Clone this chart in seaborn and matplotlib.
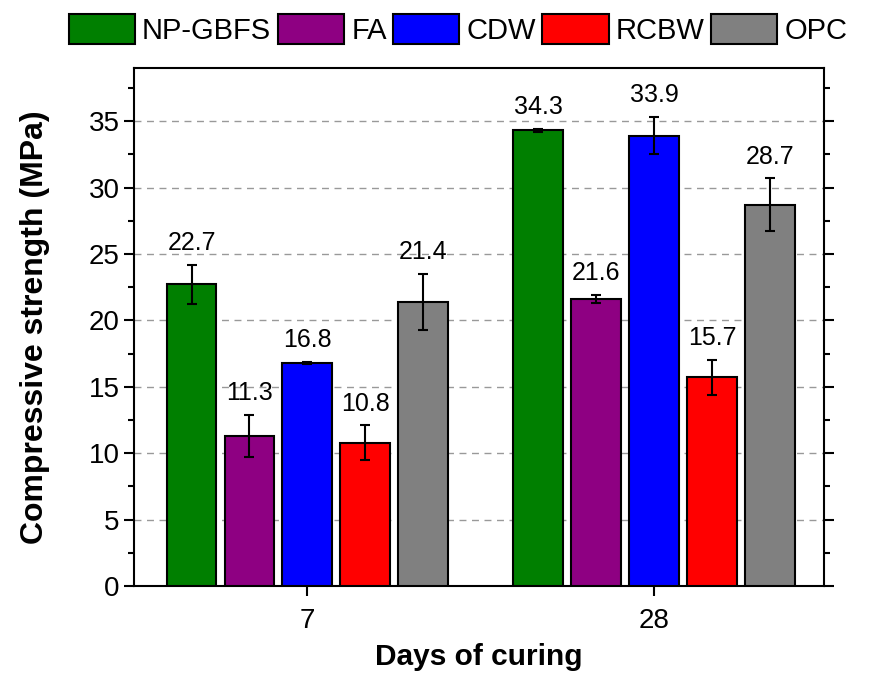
import pandas as pd
import matplotlib.pyplot as plt
import seaborn as sns

days = ["7", "28"]
materials = ["NP-GBFS", "FA", "CDW", "RCBW", "OPC"]
strength_7 = [22.7, 11.3, 16.8, 10.8, 21.4]
strength_28 = [34.3, 21.6, 33.9, 15.7, 28.7]
err_7 = [1.5, 1.6, 0.1, 1.3, 2.1]
err_28 = [0.1, 0.3, 1.4, 1.3, 2.0]
colors = ["#007F00", "#8E0082", "#0000FF", "#FF0000", "#808080"]

df = pd.DataFrame({
    "days": [days[0]] * 5 + [days[1]] * 5,
    "material": materials * 2,
    "strength": strength_7 + strength_28,
    "err": err_7 + err_28,
})

sns.set_style("ticks", {"axes.edgecolor": "black", "text.color": "black",
                        "axes.labelcolor": "black", "xtick.color": "black",
                        "ytick.color": "black"})
plt.rcParams['font.family'] = ['Liberation Sans', 'DejaVu Sans']

fig = plt.figure(figsize=(8.88, 6.75), dpi=100)
ax = fig.add_axes([134 / 888, 1 - 586 / 675, 690 / 888, 518 / 675])

sns.barplot(data=df, x="days", y="strength", hue="material", order=days,
            hue_order=materials, palette=colors, errorbar=None,
            width=0.835, gap=0.14, edgecolor="black", linewidth=1.5,
            saturation=1, ax=ax, zorder=3)

# error bars + value labels on each bar
bar_conts = list(ax.containers)
for i, cont in enumerate(bar_conts):
    bars = sorted(cont.patches, key=lambda b: b.get_x())
    for j, bar in enumerate(bars):
        row = df[(df.material == materials[i]) & (df.days == days[j])].iloc[0]
        xc = bar.get_x() + bar.get_width() / 2
        ax.errorbar(xc, row.strength, yerr=row.err, color="black",
                    capsize=3.3, elinewidth=1.5, capthick=1.5, zorder=4)
        ax.annotate(f"{row.strength:.1f}", (xc, row.strength + row.err),
                    xytext=(0, 7), textcoords="offset points",
                    ha="center", va="bottom", fontsize=18, color="black")

ax.set_ylim(0, 39)
ax.set_xlim(-0.5, 1.49)
ax.set_yticks(range(0, 36, 5))
ax.set_yticks([2.5 + 5 * k for k in range(8)], minor=True)
ax.yaxis.grid(True, which="major", linestyle=(0, (5, 4)), color="#999999",
              linewidth=1, zorder=0)
ax.set_axisbelow(True)
ax.tick_params(axis="both", which="major", labelsize=20, length=7, width=1.5,
               direction="out")
ax.tick_params(axis="x", which="major", pad=9)
ax.tick_params(axis="y", which="minor", length=4, width=1.5, direction="out")
ax.tick_params(axis="y", which="both", right=True, labelright=False)
for sp in ax.spines.values():
    sp.set_linewidth(1.5)
    sp.set_visible(True)

ax.set_xlabel("Days of curing", fontsize=21.5, fontweight="bold", labelpad=6)
ax.set_ylabel("Compressive strength (MPa)", fontsize=23, fontweight="bold",
              labelpad=28)

handles, labels = ax.get_legend_handles_labels()
ax.get_legend().remove()
fig.legend(handles, labels, loc="center", bbox_to_anchor=(0.516, 0.956),
           ncol=5, frameon=False, fontsize=21, handlelength=2.27,
           handleheight=1.2, handletextpad=0.25, columnspacing=0.22,
           borderpad=0)

fig.savefig("out.png", dpi=100)
